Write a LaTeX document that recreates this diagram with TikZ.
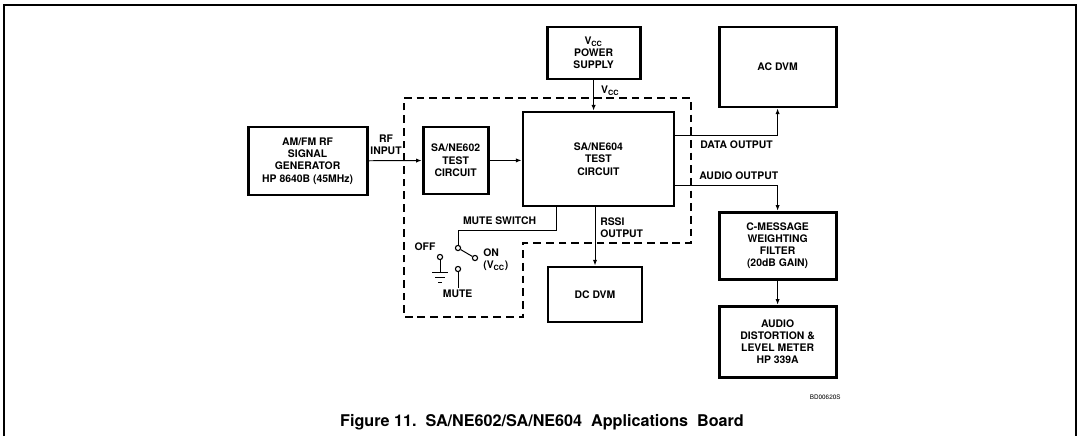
\documentclass[tikz,border=0pt]{standalone}
\usepackage{fontspec}
\setmainfont{TeX Gyre Heros}
\usepackage{tikz}
\usetikzlibrary{arrows.meta,positioning}
\newcommand{\vcc}{V\textsubscript{CC}}

\begin{document}
\begin{tikzpicture}[
    >={Latex[length=4pt,width=3pt]},
    blk/.style={draw, line width=2pt, align=center, inner sep=0pt, font=\fontsize{7.4}{8.7}\selectfont\bfseries},
    wire/.style={line width=0.7pt},
    lbl/.style={font=\fontsize{7.4}{8.7}\selectfont\bfseries, inner sep=0pt, align=left},
    term/.style={draw, circle, line width=0.8pt, minimum size=0.13cm, inner sep=0pt},
]
\useasboundingbox (0,0) rectangle (27,-10.9);
% Frame
\draw[line width=0.8pt] (0.1,-10.9) -- (0.1,-0.125) -- (26.9,-0.125) -- (26.9,-10.9);

% Boxes
\node[blk, minimum width=2.975cm, minimum height=1.7cm] (siggen) at (7.69,-4.025) {AM/FM RF\\SIGNAL\\GENERATOR\\HP 8640B (45MHz)};
\node[blk, minimum width=1.625cm, minimum height=1.675cm] (sa602) at (11.39,-4.01) {SA/NE602\\TEST\\CIRCUIT};
\node[blk, minimum width=3.775cm, minimum height=2.35cm] (sa604) at (14.96,-3.975) {SA/NE604\\TEST\\CIRCUIT};
\node[blk, minimum width=2.325cm, minimum height=1.3cm] (power) at (14.84,-1.325) {\vcc\\POWER\\SUPPLY};
\node[blk, minimum width=2.925cm, minimum height=2cm] (acdvm) at (19.44,-1.675) {AC DVM};
\node[blk, minimum width=2.925cm, minimum height=1.675cm] (cmsg) at (19.44,-6.14) {C-MESSAGE\\WEIGHTING\\FILTER\\(20dB GAIN)};
\node[blk, minimum width=2.925cm, minimum height=1.775cm] (meter) at (19.44,-8.54) {AUDIO\\DISTORTION \&\\LEVEL METER\\HP 339A};
\node[blk, minimum width=2.35cm, minimum height=1.375cm] (dcdvm) at (14.875,-7.36) {DC DVM};

% Board outline
\draw[line width=0.9pt, dash pattern=on 5.5pt off 3.5pt] (10.1,-2.45) -- (17.275,-2.45) -- (17.275,-6.075) -- (13.075,-6.075) -- (13.075,-7.925) -- (10.1,-7.925) -- cycle;

% Switch
\coordinate (mw) at (13.9,-5.75);
\node[term] (pivot) at (11.45,-6.2) {};
\node[term] (onterm) at (11.875,-6.45) {};
\node[term] (offterm) at (11.0,-6.425) {};
\node[term] (muteterm) at (11.45,-6.725) {};

% Labels
\node[lbl, anchor=south, align=center] (rfin) at (9.65,-3.88) {RF\\INPUT};
\node[lbl, anchor=west] (vcclbl) at (15.02,-2.275) {\vcc};
\node[lbl, anchor=west] (datalbl) at (17.5,-3.625) {DATA OUTPUT};
\node[lbl, anchor=west] (audiolbl) at (17.475,-4.4) {AUDIO OUTPUT};
\node[lbl, anchor=west] (rssilbl) at (15.0,-5.7) {RSSI\\OUTPUT};
\node[lbl] (mutesw) at (12.49,-5.525) {MUTE SWITCH};
\node[lbl] (offlbl) at (10.625,-6.175) {OFF};
\node[lbl, anchor=west] (onlbl) at (12.075,-6.5) {ON\\(\vcc)};
\node[lbl] (mutelbl) at (11.44,-7.35) {MUTE};
\node[font=\fontsize{4.5}{5}\selectfont, inner sep=0pt] (code) at (20.63,-9.925) {BD00620S};
\node[font=\fontsize{11.5}{13}\selectfont\bfseries, inner sep=0pt] (caption) at (13.55,-10.55) {Figure 11.\ \ SA/NE602/SA/NE604\ \ Applications\ \ Board};

% Arrows
\draw[wire,->] (siggen) -- (sa602);
\draw[wire,->] (sa602) -- (sa604.west |- sa602);
\draw[wire,->] (power.south) -- (power.south |- sa604.north);
\draw[wire,->] (sa604.east |- 0,-3.375) -| (acdvm.south);
\draw[wire,->] (sa604.east |- 0,-4.625) -| (cmsg.north);
\draw[wire,->] (cmsg) -- (meter);
\draw[wire,->] (sa604.south -| dcdvm.north) -- (dcdvm.north);
\draw[wire] (sa604.south -| mw) -- (mw) -| (pivot.north);
\draw[wire] (pivot) -- (onterm);
\draw[wire] (offterm.south) -- ++(0,-0.3) coordinate (gnd);
\draw[wire] ([xshift=-0.2cm]gnd) -- ([xshift=0.2cm]gnd);
\draw[wire] ([shift={(-0.125,-0.125)}]gnd) -- ([shift={(0.125,-0.125)}]gnd);
\draw[wire] ([shift={(-0.05,-0.25)}]gnd) -- ([shift={(0.05,-0.25)}]gnd);
\draw[wire] (muteterm.south) -- ++(0,-0.4);
\end{tikzpicture}
\end{document}
